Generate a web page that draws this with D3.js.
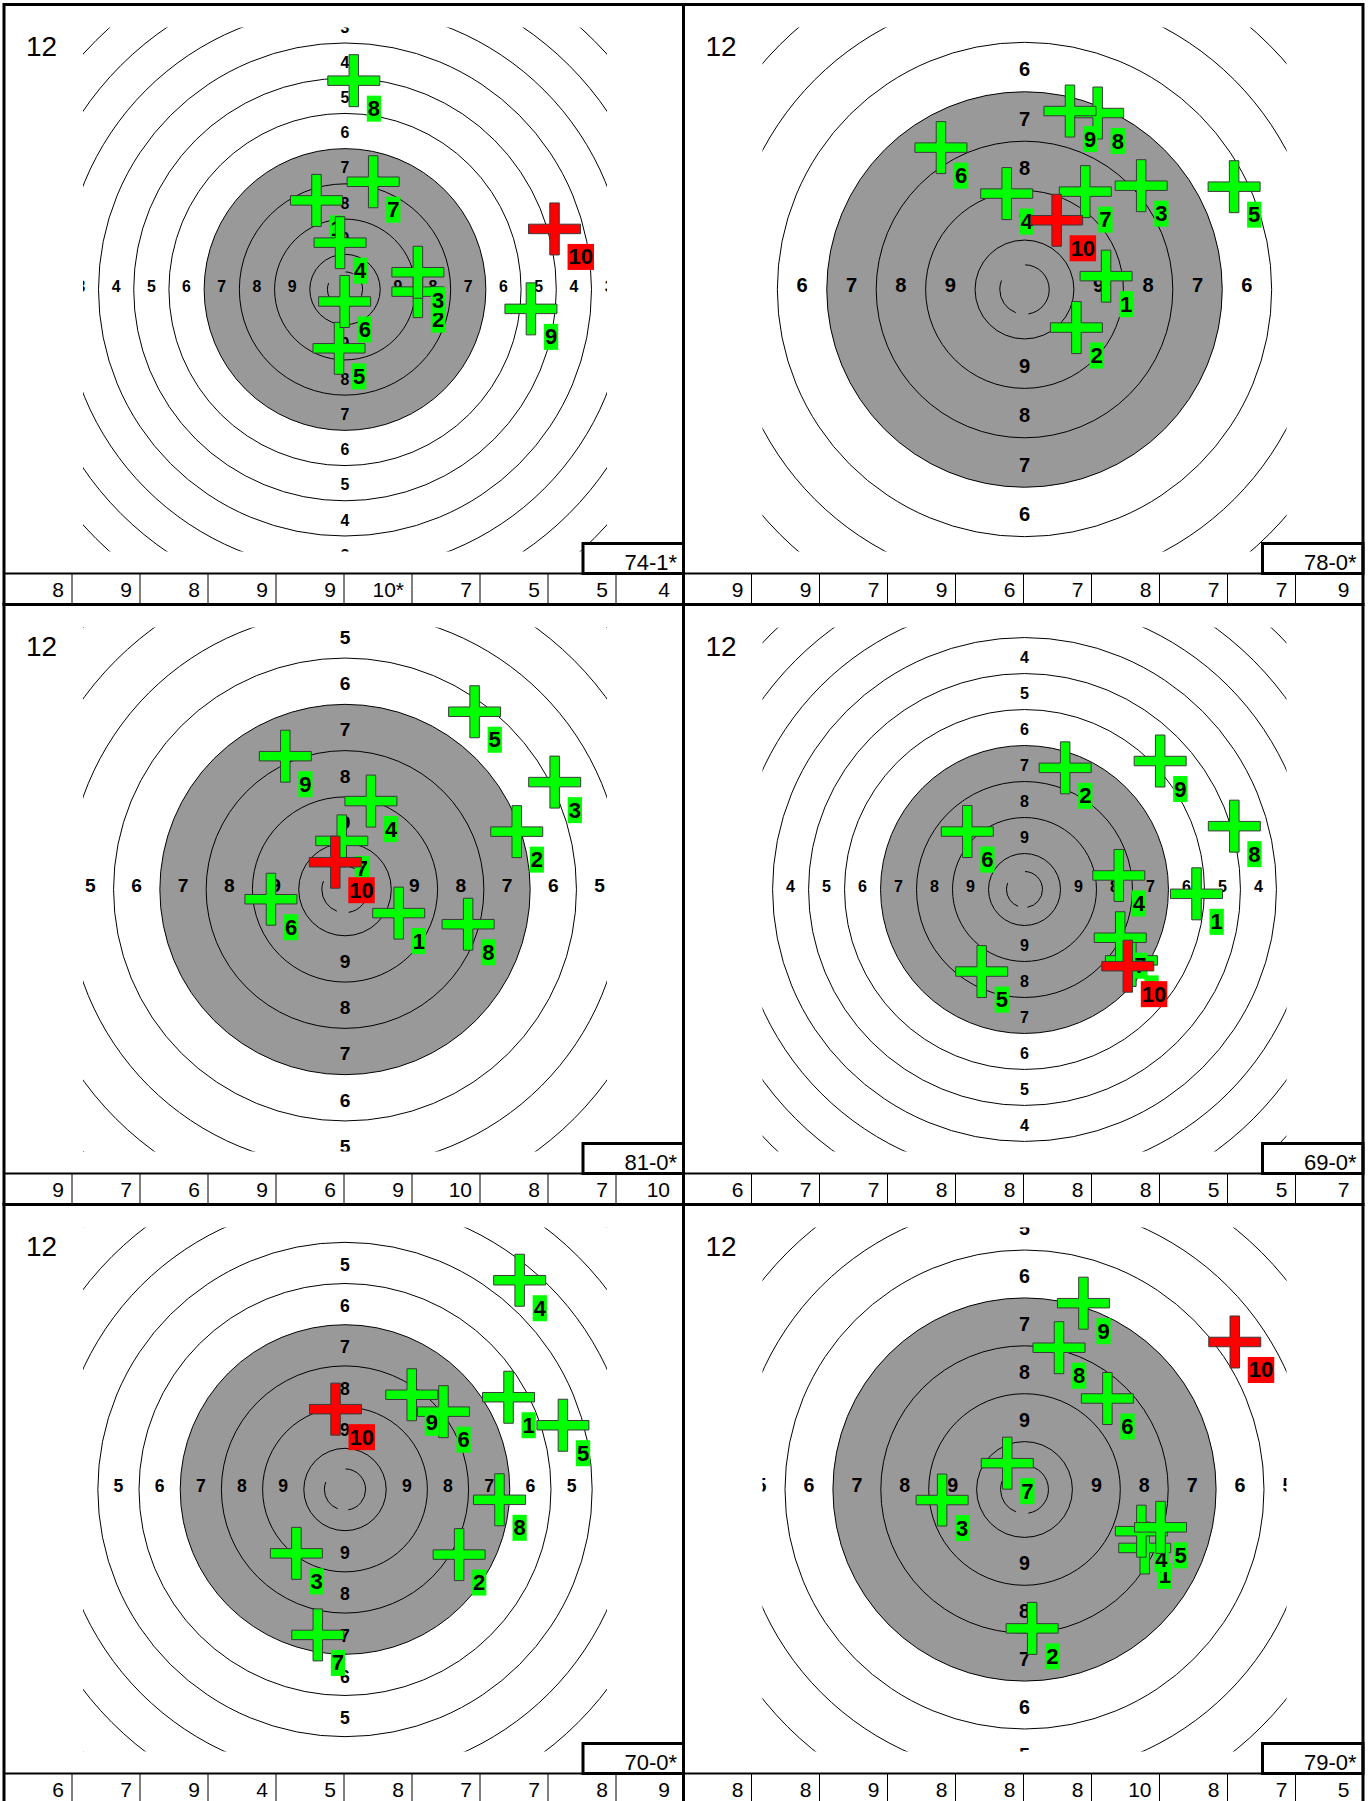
<!DOCTYPE html>
<html><head><meta charset="utf-8">
<script src="https://cdn.jsdelivr.net/npm/d3@7/dist/d3.min.js"></script>
<style>html,body{margin:0;padding:0;background:#fff}</style>
</head><body>
<svg id="chart" width="1372" height="1801"></svg>
<script>
// ---------- DATA ----------
const seriesLabel = "12";
const shotNumbers = [1, 2, 3, 4, 5, 6, 7, 8, 9, 10];
const ringValues = [1, 2, 3, 4, 5, 6, 7, 8, 9, 10];
// shot positions in ring units (x right, y up), one pair of arrays per target
const t1X = [-0.81, 2.07, 2.07, -0.14, -0.17, -0.01, 0.80, 0.25, 5.28, 5.95];
const t1Y = [2.53, -0.06, 0.49, 1.33, -1.67, -0.34, 3.06, 5.93, -0.55, 1.72];
const t2X = [1.65, 1.05, 2.36, -0.36, 4.24, -1.69, 1.23, 1.48, 0.92, 0.65];
const t2Y = [0.27, -0.77, 2.10, 1.94, 2.08, 2.87, 1.98, 3.57, 3.61, 1.40];
const t3X = [1.16, 3.71, 4.53, 0.56, 2.80, -1.60, -0.07, 2.66, -1.29, -0.21];
const t3Y = [-0.51, 1.25, 2.32, 1.91, 3.84, -0.21, 1.05, -0.75, 2.88, 0.59];
const t4X = [4.78, 1.13, 2.97, 2.62, -1.19, -1.59, 2.66, 5.83, 3.77, 2.87];
const t4Y = [-0.12, 3.38, -1.97, 0.39, -2.28, 1.61, -1.34, 1.76, 3.57, -2.13];
const t5X = [3.97, 2.77, -1.18, 4.24, 5.29, 2.39, -0.66, 3.75, 1.62, -0.23];
const t5Y = [2.24, -1.58, -1.55, 5.08, 1.56, 1.89, -3.53, -0.25, 2.30, 1.95];
const t6X = [2.51, 0.16, -1.72, 2.44, 2.84, 1.73, -0.36, 0.72, 1.23, 4.39];
const t6Y = [-1.22, -2.90, -0.22, -0.87, -0.79, 1.90, 0.55, 2.96, 3.89, 3.08];
// scores per shot
const s1 = ["8", "9", "8", "9", "9", "10*", "7", "5", "5", "4"];
const s2 = ["9", "9", "7", "9", "6", "7", "8", "7", "7", "9"];
const s3 = ["9", "7", "6", "9", "6", "9", "10", "8", "7", "10"];
const s4 = ["6", "7", "7", "8", "8", "8", "8", "5", "5", "7"];
const s5 = ["6", "7", "9", "4", "5", "8", "7", "7", "8", "9"];
const s6 = ["8", "8", "9", "8", "8", "8", "10", "8", "7", "5"];
const totals = ["74-1*", "78-0*", "81-0*", "69-0*", "70-0*", "79-0*"];
// visible half-width of each target view, in ring units (zoom level)
const viewHalfRings = [7.44, 5.30, 5.66, 7.28, 6.36, 5.47];

const shotsX = [t1X, t2X, t3X, t4X, t5X, t6X];
const shotsY = [t1Y, t2Y, t3Y, t4Y, t5Y, t6Y];
const scoreRows = [s1, s2, s3, s4, s5, s6];

// ---------- DRAW ----------
const svg = d3.select("#chart");
svg.append("rect").attr("width", 1372).attr("height", 1801).attr("fill", "#fff");
const FONT = "'Liberation Sans', Arial, Helvetica, sans-serif";
const PW = 679.5, PH = 600, TABLE_Y = 569, CX = 341, CY = 285, HALF = 262;
const CELL = 68;

totals.forEach((tot, i) => {
  const col = i % 2, row = Math.floor(i / 2);
  const x0 = 4 + col * PW, y0 = 4.5 + row * PH;
  const g = svg.append("g").attr("transform", `translate(${x0},${y0})`);
  const ext = viewHalfRings[i];
  const xs = d3.scaleLinear().domain([-ext, ext]).range([CX - HALF, CX + HALF]);
  const ys = d3.scaleLinear().domain([-ext, ext]).range([CY + HALF, CY - HALF]);
  const rs = d3.scaleLinear().domain([0, ext]).range([0, HALF]);
  const spacing = rs(1);

  const clipId = "clip" + i;
  g.append("clipPath").attr("id", clipId).append("rect")
    .attr("x", CX - HALF).attr("y", CY - HALF)
    .attr("width", 2 * HALF).attr("height", 2 * HALF);
  const tg = g.append("g").attr("clip-path", `url(#${clipId})`);

  // black zone (7 ring and inside) in gray
  tg.append("circle").attr("cx", xs(0)).attr("cy", ys(0)).attr("r", rs(11 - 7))
    .attr("fill", "#999999");
  // rings
  tg.selectAll("circle.ring").data(ringValues).enter().append("circle")
    .attr("class", "ring")
    .attr("cx", xs(0)).attr("cy", ys(0))
    .attr("r", v => rs(11 - v))
    .attr("fill", "none").attr("stroke", "#000").attr("stroke-width", 1);
  // inner ten (broken circle)
  const rX = rs(0.5), circ = 2 * Math.PI * rX;
  tg.append("circle").attr("cx", xs(0)).attr("cy", ys(0)).attr("r", rX)
    .attr("fill", "none").attr("stroke", "#000").attr("stroke-width", 1)
    .attr("stroke-dasharray", [80, 30, 90, 70, 90].map(d => d / 360 * circ).join(","));

  // ring numbers (only those at least partly inside the view)
  const fs = 0.3 * spacing + 5.3;
  const labelVals = ringValues.filter(v => v <= 9 && rs(10.5 - v) - 0.3 * fs < HALF);
  const dirs = [[-1, 0], [1, 0], [0, 1], [0, -1]];
  dirs.forEach(([dx, dy]) => {
    tg.selectAll(null).data(labelVals).enter().append("text")
      .attr("x", v => xs(dx * (10.5 - v)))
      .attr("y", v => ys(dy * (10.5 - v)) + 0.36 * fs + (dy === 0 ? -0.1 * spacing : 0.04 * spacing))
      .attr("text-anchor", "middle")
      .attr("font-family", FONT).attr("font-weight", "bold")
      .attr("font-size", fs)
      .text(v => v);
  });

  // shots
  const L = 26, t = 4.75;
  const plus = `M${-t},${-L}H${t}V${-t}H${L}V${t}H${t}V${L}H${-t}V${t}H${-L}V${-t}H${-t}Z`;
  const xsArr = shotsX[i], ysArr = shotsY[i];
  shotNumbers.forEach((n, k) => {
    const px = xs(xsArr[k]), py = ys(ysArr[k]);
    const isLast = k === shotNumbers.length - 1;
    const color = isLast ? "#ff0000" : "#00ff00";
    const sg = g.append("g");
    sg.append("path").attr("d", plus).attr("transform", `translate(${px},${py})`)
      .attr("fill", color).attr("stroke", "#3a3a3a").attr("stroke-width", 1);
    const bg = sg.append("rect").attr("fill", color);
    const tx = sg.append("text")
      .attr("x", px + 14).attr("y", py + 15 + 20.5)
      .attr("font-family", FONT).attr("font-weight", "bold").attr("font-size", 22)
      .attr("fill", "#000").text(n);
    const w = tx.node().getComputedTextLength();
    bg.attr("x", px + 13).attr("y", py + 15).attr("width", w + 2).attr("height", 26);
  });

  // series label
  g.append("text").attr("x", 22).attr("y", 51)
    .attr("font-family", FONT).attr("font-size", 28).text(seriesLabel);

  // score table
  const tbl = g.append("g");
  tbl.append("line").attr("x1", 0).attr("x2", PW).attr("y1", TABLE_Y).attr("y2", TABLE_Y)
    .attr("stroke", "#000").attr("stroke-width", 2);
  scoreRows[i].forEach((s, j) => {
    if (j > 0) tbl.append("line").attr("x1", j * CELL).attr("x2", j * CELL)
      .attr("y1", TABLE_Y).attr("y2", PH).attr("stroke", "#000").attr("stroke-width", 1);
    tbl.append("text").attr("x", Math.min((j + 1) * CELL - 8, 666)).attr("y", 592)
      .attr("text-anchor", "end").attr("font-family", FONT).attr("font-size", 21).text(s);
  });

  // total box
  g.append("rect").attr("x", 579).attr("y", 539).attr("width", PW - 579).attr("height", TABLE_Y - 539)
    .attr("fill", "#fff").attr("stroke", "#000").attr("stroke-width", 3);
  g.append("text").attr("x", 673).attr("y", 565).attr("text-anchor", "end")
    .attr("font-family", FONT).attr("font-size", 22).text(tot);

  // panel border
  g.append("rect").attr("x", 0).attr("y", 0).attr("width", PW).attr("height", PH)
    .attr("fill", "none").attr("stroke", "#000").attr("stroke-width", 3);
});
</script>
</body></html>
